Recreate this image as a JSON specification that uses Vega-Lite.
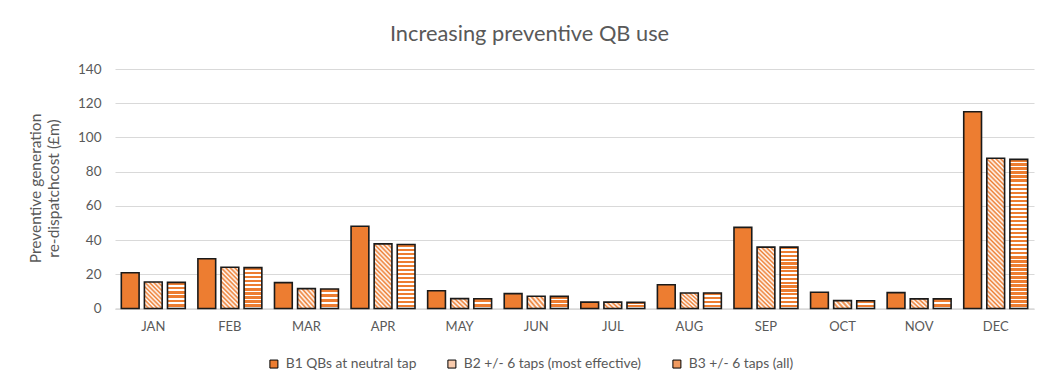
{
"$schema": "https://vega.github.io/schema/vega-lite/v6.json",
"autosize": {"type": "none"},
"width": 919,
"height": 239.5,
"padding": {"left": 115, "top": 69, "right": 12, "bottom": 81.5},
"background": "white",
"title": {"text": "Increasing preventive QB use", "font": "Lato", "fontSize": 21.8, "fontWeight": "normal", "color": "#595959", "anchor": "middle", "dx": -45, "offset": 16},
"data": {"values": [
{"month": "JAN", "series": "B1 QBs at neutral tap", "value": 20.9},
{"month": "JAN", "series": "B2 +/- 6 taps (most effective)", "value": 15.5},
{"month": "JAN", "series": "B3 +/- 6 taps (all)", "value": 15.3},
{"month": "FEB", "series": "B1 QBs at neutral tap", "value": 29.1},
{"month": "FEB", "series": "B2 +/- 6 taps (most effective)", "value": 24.1},
{"month": "FEB", "series": "B3 +/- 6 taps (all)", "value": 23.9},
{"month": "MAR", "series": "B1 QBs at neutral tap", "value": 15.1},
{"month": "MAR", "series": "B2 +/- 6 taps (most effective)", "value": 11.6},
{"month": "MAR", "series": "B3 +/- 6 taps (all)", "value": 11.4},
{"month": "APR", "series": "B1 QBs at neutral tap", "value": 48.1},
{"month": "APR", "series": "B2 +/- 6 taps (most effective)", "value": 37.8},
{"month": "APR", "series": "B3 +/- 6 taps (all)", "value": 37.4},
{"month": "MAY", "series": "B1 QBs at neutral tap", "value": 10.4},
{"month": "MAY", "series": "B2 +/- 6 taps (most effective)", "value": 5.8},
{"month": "MAY", "series": "B3 +/- 6 taps (all)", "value": 5.7},
{"month": "JUN", "series": "B1 QBs at neutral tap", "value": 8.7},
{"month": "JUN", "series": "B2 +/- 6 taps (most effective)", "value": 7.2},
{"month": "JUN", "series": "B3 +/- 6 taps (all)", "value": 7.1},
{"month": "JUL", "series": "B1 QBs at neutral tap", "value": 3.7},
{"month": "JUL", "series": "B2 +/- 6 taps (most effective)", "value": 3.7},
{"month": "JUL", "series": "B3 +/- 6 taps (all)", "value": 3.6},
{"month": "AUG", "series": "B1 QBs at neutral tap", "value": 13.9},
{"month": "AUG", "series": "B2 +/- 6 taps (most effective)", "value": 9.1},
{"month": "AUG", "series": "B3 +/- 6 taps (all)", "value": 9.1},
{"month": "SEP", "series": "B1 QBs at neutral tap", "value": 47.4},
{"month": "SEP", "series": "B2 +/- 6 taps (most effective)", "value": 35.9},
{"month": "SEP", "series": "B3 +/- 6 taps (all)", "value": 35.9},
{"month": "OCT", "series": "B1 QBs at neutral tap", "value": 9.5},
{"month": "OCT", "series": "B2 +/- 6 taps (most effective)", "value": 4.6},
{"month": "OCT", "series": "B3 +/- 6 taps (all)", "value": 4.5},
{"month": "NOV", "series": "B1 QBs at neutral tap", "value": 9.3},
{"month": "NOV", "series": "B2 +/- 6 taps (most effective)", "value": 5.6},
{"month": "NOV", "series": "B3 +/- 6 taps (all)", "value": 5.6},
{"month": "DEC", "series": "B1 QBs at neutral tap", "value": 115},
{"month": "DEC", "series": "B2 +/- 6 taps (most effective)", "value": 87.8},
{"month": "DEC", "series": "B3 +/- 6 taps (all)", "value": 87.2}
]},
"mark": {"type": "bar", "stroke": "#1a1a1a", "strokeWidth": 1.6},
"encoding": {
"x": {"field": "month", "type": "nominal", "sort": null, "scale": {"paddingInner": 0.165, "paddingOuter": 0.0825},
 "axis": {"title": null, "labelAngle": 0, "ticks": false, "domainColor": "#d9d9d9", "domainWidth": 1.3, "labelPadding": 12, "labelFont": "Lato", "labelFontSize": 13, "labelColor": "#595959"}},
"xOffset": {"field": "series", "type": "nominal", "sort": null, "scale": {"paddingInner": 0.23, "paddingOuter": 0}},
"y": {"field": "value", "type": "quantitative", "scale": {"domain": [0, 140], "nice": false},
 "axis": {"values": [0, 20, 40, 60, 80, 100, 120, 140], "title": ["Preventive generation", "re-dispatchcost (£m)"], "domain": false, "ticks": false, "gridColor": "#d9d9d9", "gridWidth": 1.2, "labelPadding": 14, "labelFont": "Lato", "labelFontSize": 13.5, "labelColor": "#595959", "titleFont": "Lato", "titleFontSize": 15.5, "titleFontWeight": "normal", "titleColor": "#595959", "titleAngle": -90, "titleX": -80, "titleY": 119, "titleAlign": "center", "titleBaseline": "middle", "titleLineHeight": 18}},
"fill": {"field": "series", "type": "nominal", "sort": null,
 "scale": {"domain": ["B1 QBs at neutral tap", "B2 +/- 6 taps (most effective)", "B3 +/- 6 taps (all)"], "range": ["#ED7D31", "#F8CBAD", "#F09A60"]},
 "legend": {"orient": "none", "legendX": 152, "legendY": 288, "direction": "horizontal", "title": null, "symbolType": "square", "symbolSize": 64, "symbolStrokeColor": "#000", "symbolStrokeWidth": 1, "labelFont": "Lato", "labelFontSize": 13.8, "labelLimit": 400, "labelColor": "#595959", "columnPadding": 28, "labelOffset": 5},
 "condition": [
 {"test": "indexof(datum.series,'B3')==0 && datum.value>=60", "value": {"gradient": "linear", "x1": 0, "y1": 0, "x2": 0, "y2": 1, "stops": [
  {"offset":0,"color":"#ED7D31"},{"offset":0.0162,"color":"#ED7D31"},{"offset":0.0162,"color":"#fff"},{"offset":0.027,"color":"#fff"},
  {"offset":0.027,"color":"#ED7D31"},{"offset":0.0432,"color":"#ED7D31"},{"offset":0.0432,"color":"#fff"},{"offset":0.0541,"color":"#fff"},
  {"offset":0.0541,"color":"#ED7D31"},{"offset":0.0703,"color":"#ED7D31"},{"offset":0.0703,"color":"#fff"},{"offset":0.0811,"color":"#fff"},
  {"offset":0.0811,"color":"#ED7D31"},{"offset":0.0973,"color":"#ED7D31"},{"offset":0.0973,"color":"#fff"},{"offset":0.1081,"color":"#fff"},
  {"offset":0.1081,"color":"#ED7D31"},{"offset":0.1243,"color":"#ED7D31"},{"offset":0.1243,"color":"#fff"},{"offset":0.1351,"color":"#fff"},
  {"offset":0.1351,"color":"#ED7D31"},{"offset":0.1514,"color":"#ED7D31"},{"offset":0.1514,"color":"#fff"},{"offset":0.1622,"color":"#fff"},
  {"offset":0.1622,"color":"#ED7D31"},{"offset":0.1784,"color":"#ED7D31"},{"offset":0.1784,"color":"#fff"},{"offset":0.1892,"color":"#fff"},
  {"offset":0.1892,"color":"#ED7D31"},{"offset":0.2054,"color":"#ED7D31"},{"offset":0.2054,"color":"#fff"},{"offset":0.2162,"color":"#fff"},
  {"offset":0.2162,"color":"#ED7D31"},{"offset":0.2324,"color":"#ED7D31"},{"offset":0.2324,"color":"#fff"},{"offset":0.2432,"color":"#fff"},
  {"offset":0.2432,"color":"#ED7D31"},{"offset":0.2595,"color":"#ED7D31"},{"offset":0.2595,"color":"#fff"},{"offset":0.2703,"color":"#fff"},
  {"offset":0.2703,"color":"#ED7D31"},{"offset":0.2865,"color":"#ED7D31"},{"offset":0.2865,"color":"#fff"},{"offset":0.2973,"color":"#fff"},
  {"offset":0.2973,"color":"#ED7D31"},{"offset":0.3135,"color":"#ED7D31"},{"offset":0.3135,"color":"#fff"},{"offset":0.3243,"color":"#fff"},
  {"offset":0.3243,"color":"#ED7D31"},{"offset":0.3405,"color":"#ED7D31"},{"offset":0.3405,"color":"#fff"},{"offset":0.3514,"color":"#fff"},
  {"offset":0.3514,"color":"#ED7D31"},{"offset":0.3676,"color":"#ED7D31"},{"offset":0.3676,"color":"#fff"},{"offset":0.3784,"color":"#fff"},
  {"offset":0.3784,"color":"#ED7D31"},{"offset":0.3946,"color":"#ED7D31"},{"offset":0.3946,"color":"#fff"},{"offset":0.4054,"color":"#fff"},
  {"offset":0.4054,"color":"#ED7D31"},{"offset":0.4216,"color":"#ED7D31"},{"offset":0.4216,"color":"#fff"},{"offset":0.4324,"color":"#fff"},
  {"offset":0.4324,"color":"#ED7D31"},{"offset":0.4486,"color":"#ED7D31"},{"offset":0.4486,"color":"#fff"},{"offset":0.4595,"color":"#fff"},
  {"offset":0.4595,"color":"#ED7D31"},{"offset":0.4757,"color":"#ED7D31"},{"offset":0.4757,"color":"#fff"},{"offset":0.4865,"color":"#fff"},
  {"offset":0.4865,"color":"#ED7D31"},{"offset":0.5027,"color":"#ED7D31"},{"offset":0.5027,"color":"#fff"},{"offset":0.5135,"color":"#fff"},
  {"offset":0.5135,"color":"#ED7D31"},{"offset":0.5297,"color":"#ED7D31"},{"offset":0.5297,"color":"#fff"},{"offset":0.5405,"color":"#fff"},
  {"offset":0.5405,"color":"#ED7D31"},{"offset":0.5568,"color":"#ED7D31"},{"offset":0.5568,"color":"#fff"},{"offset":0.5676,"color":"#fff"},
  {"offset":0.5676,"color":"#ED7D31"},{"offset":0.5838,"color":"#ED7D31"},{"offset":0.5838,"color":"#fff"},{"offset":0.5946,"color":"#fff"},
  {"offset":0.5946,"color":"#ED7D31"},{"offset":0.6108,"color":"#ED7D31"},{"offset":0.6108,"color":"#fff"},{"offset":0.6216,"color":"#fff"},
  {"offset":0.6216,"color":"#ED7D31"},{"offset":0.6378,"color":"#ED7D31"},{"offset":0.6378,"color":"#fff"},{"offset":0.6486,"color":"#fff"},
  {"offset":0.6486,"color":"#ED7D31"},{"offset":0.6649,"color":"#ED7D31"},{"offset":0.6649,"color":"#fff"},{"offset":0.6757,"color":"#fff"},
  {"offset":0.6757,"color":"#ED7D31"},{"offset":0.6919,"color":"#ED7D31"},{"offset":0.6919,"color":"#fff"},{"offset":0.7027,"color":"#fff"},
  {"offset":0.7027,"color":"#ED7D31"},{"offset":0.7189,"color":"#ED7D31"},{"offset":0.7189,"color":"#fff"},{"offset":0.7297,"color":"#fff"},
  {"offset":0.7297,"color":"#ED7D31"},{"offset":0.7459,"color":"#ED7D31"},{"offset":0.7459,"color":"#fff"},{"offset":0.7568,"color":"#fff"},
  {"offset":0.7568,"color":"#ED7D31"},{"offset":0.773,"color":"#ED7D31"},{"offset":0.773,"color":"#fff"},{"offset":0.7838,"color":"#fff"},
  {"offset":0.7838,"color":"#ED7D31"},{"offset":0.8,"color":"#ED7D31"},{"offset":0.8,"color":"#fff"},{"offset":0.8108,"color":"#fff"},
  {"offset":0.8108,"color":"#ED7D31"},{"offset":0.827,"color":"#ED7D31"},{"offset":0.827,"color":"#fff"},{"offset":0.8378,"color":"#fff"},
  {"offset":0.8378,"color":"#ED7D31"},{"offset":0.8541,"color":"#ED7D31"},{"offset":0.8541,"color":"#fff"},{"offset":0.8649,"color":"#fff"},
  {"offset":0.8649,"color":"#ED7D31"},{"offset":0.8811,"color":"#ED7D31"},{"offset":0.8811,"color":"#fff"},{"offset":0.8919,"color":"#fff"},
  {"offset":0.8919,"color":"#ED7D31"},{"offset":0.9081,"color":"#ED7D31"},{"offset":0.9081,"color":"#fff"},{"offset":0.9189,"color":"#fff"},
  {"offset":0.9189,"color":"#ED7D31"},{"offset":0.9351,"color":"#ED7D31"},{"offset":0.9351,"color":"#fff"},{"offset":0.9459,"color":"#fff"},
  {"offset":0.9459,"color":"#ED7D31"},{"offset":0.9622,"color":"#ED7D31"},{"offset":0.9622,"color":"#fff"},{"offset":0.973,"color":"#fff"},
  {"offset":0.973,"color":"#ED7D31"},{"offset":0.9892,"color":"#ED7D31"},{"offset":0.9892,"color":"#fff"},{"offset":1,"color":"#fff"}]}},
 {"test": "indexof(datum.series,'B3')==0 && datum.value>=30", "value": {"gradient": "linear", "x1": 0, "y1": 0, "x2": 0, "y2": 1, "stops": [
  {"offset":0,"color":"#ED7D31"},{"offset":0.0375,"color":"#ED7D31"},{"offset":0.0375,"color":"#fff"},{"offset":0.0625,"color":"#fff"},
  {"offset":0.0625,"color":"#ED7D31"},{"offset":0.1,"color":"#ED7D31"},{"offset":0.1,"color":"#fff"},{"offset":0.125,"color":"#fff"},
  {"offset":0.125,"color":"#ED7D31"},{"offset":0.1625,"color":"#ED7D31"},{"offset":0.1625,"color":"#fff"},{"offset":0.1875,"color":"#fff"},
  {"offset":0.1875,"color":"#ED7D31"},{"offset":0.225,"color":"#ED7D31"},{"offset":0.225,"color":"#fff"},{"offset":0.25,"color":"#fff"},
  {"offset":0.25,"color":"#ED7D31"},{"offset":0.2875,"color":"#ED7D31"},{"offset":0.2875,"color":"#fff"},{"offset":0.3125,"color":"#fff"},
  {"offset":0.3125,"color":"#ED7D31"},{"offset":0.35,"color":"#ED7D31"},{"offset":0.35,"color":"#fff"},{"offset":0.375,"color":"#fff"},
  {"offset":0.375,"color":"#ED7D31"},{"offset":0.4125,"color":"#ED7D31"},{"offset":0.4125,"color":"#fff"},{"offset":0.4375,"color":"#fff"},
  {"offset":0.4375,"color":"#ED7D31"},{"offset":0.475,"color":"#ED7D31"},{"offset":0.475,"color":"#fff"},{"offset":0.5,"color":"#fff"},
  {"offset":0.5,"color":"#ED7D31"},{"offset":0.5375,"color":"#ED7D31"},{"offset":0.5375,"color":"#fff"},{"offset":0.5625,"color":"#fff"},
  {"offset":0.5625,"color":"#ED7D31"},{"offset":0.6,"color":"#ED7D31"},{"offset":0.6,"color":"#fff"},{"offset":0.625,"color":"#fff"},
  {"offset":0.625,"color":"#ED7D31"},{"offset":0.6625,"color":"#ED7D31"},{"offset":0.6625,"color":"#fff"},{"offset":0.6875,"color":"#fff"},
  {"offset":0.6875,"color":"#ED7D31"},{"offset":0.725,"color":"#ED7D31"},{"offset":0.725,"color":"#fff"},{"offset":0.75,"color":"#fff"},
  {"offset":0.75,"color":"#ED7D31"},{"offset":0.7875,"color":"#ED7D31"},{"offset":0.7875,"color":"#fff"},{"offset":0.8125,"color":"#fff"},
  {"offset":0.8125,"color":"#ED7D31"},{"offset":0.85,"color":"#ED7D31"},{"offset":0.85,"color":"#fff"},{"offset":0.875,"color":"#fff"},
  {"offset":0.875,"color":"#ED7D31"},{"offset":0.9125,"color":"#ED7D31"},{"offset":0.9125,"color":"#fff"},{"offset":0.9375,"color":"#fff"},
  {"offset":0.9375,"color":"#ED7D31"},{"offset":0.975,"color":"#ED7D31"},{"offset":0.975,"color":"#fff"},{"offset":1,"color":"#fff"}]}},
 {"test": "indexof(datum.series,'B3')==0 && datum.value>=20", "value": {"gradient": "linear", "x1": 0, "y1": 0, "x2": 0, "y2": 1, "stops": [
  {"offset":0,"color":"#ED7D31"},{"offset":0.06,"color":"#ED7D31"},{"offset":0.06,"color":"#fff"},{"offset":0.1,"color":"#fff"},
  {"offset":0.1,"color":"#ED7D31"},{"offset":0.16,"color":"#ED7D31"},{"offset":0.16,"color":"#fff"},{"offset":0.2,"color":"#fff"},
  {"offset":0.2,"color":"#ED7D31"},{"offset":0.26,"color":"#ED7D31"},{"offset":0.26,"color":"#fff"},{"offset":0.3,"color":"#fff"},
  {"offset":0.3,"color":"#ED7D31"},{"offset":0.36,"color":"#ED7D31"},{"offset":0.36,"color":"#fff"},{"offset":0.4,"color":"#fff"},
  {"offset":0.4,"color":"#ED7D31"},{"offset":0.46,"color":"#ED7D31"},{"offset":0.46,"color":"#fff"},{"offset":0.5,"color":"#fff"},
  {"offset":0.5,"color":"#ED7D31"},{"offset":0.56,"color":"#ED7D31"},{"offset":0.56,"color":"#fff"},{"offset":0.6,"color":"#fff"},
  {"offset":0.6,"color":"#ED7D31"},{"offset":0.66,"color":"#ED7D31"},{"offset":0.66,"color":"#fff"},{"offset":0.7,"color":"#fff"},
  {"offset":0.7,"color":"#ED7D31"},{"offset":0.76,"color":"#ED7D31"},{"offset":0.76,"color":"#fff"},{"offset":0.8,"color":"#fff"},
  {"offset":0.8,"color":"#ED7D31"},{"offset":0.86,"color":"#ED7D31"},{"offset":0.86,"color":"#fff"},{"offset":0.9,"color":"#fff"},
  {"offset":0.9,"color":"#ED7D31"},{"offset":0.96,"color":"#ED7D31"},{"offset":0.96,"color":"#fff"},{"offset":1,"color":"#fff"}]}},
 {"test": "indexof(datum.series,'B3')==0 && datum.value>=13", "value": {"gradient": "linear", "x1": 0, "y1": 0, "x2": 0, "y2": 1, "stops": [
  {"offset":0,"color":"#ED7D31"},{"offset":0.1,"color":"#ED7D31"},{"offset":0.1,"color":"#fff"},{"offset":0.1667,"color":"#fff"},
  {"offset":0.1667,"color":"#ED7D31"},{"offset":0.2667,"color":"#ED7D31"},{"offset":0.2667,"color":"#fff"},{"offset":0.3333,"color":"#fff"},
  {"offset":0.3333,"color":"#ED7D31"},{"offset":0.4333,"color":"#ED7D31"},{"offset":0.4333,"color":"#fff"},{"offset":0.5,"color":"#fff"},
  {"offset":0.5,"color":"#ED7D31"},{"offset":0.6,"color":"#ED7D31"},{"offset":0.6,"color":"#fff"},{"offset":0.6667,"color":"#fff"},
  {"offset":0.6667,"color":"#ED7D31"},{"offset":0.7667,"color":"#ED7D31"},{"offset":0.7667,"color":"#fff"},{"offset":0.8333,"color":"#fff"},
  {"offset":0.8333,"color":"#ED7D31"},{"offset":0.9333,"color":"#ED7D31"},{"offset":0.9333,"color":"#fff"},{"offset":1,"color":"#fff"}]}},
 {"test": "indexof(datum.series,'B3')==0 && datum.value>=8", "value": {"gradient": "linear", "x1": 0, "y1": 0, "x2": 0, "y2": 1, "stops": [
  {"offset":0,"color":"#ED7D31"},{"offset":0.15,"color":"#ED7D31"},{"offset":0.15,"color":"#fff"},{"offset":0.25,"color":"#fff"},
  {"offset":0.25,"color":"#ED7D31"},{"offset":0.4,"color":"#ED7D31"},{"offset":0.4,"color":"#fff"},{"offset":0.5,"color":"#fff"},
  {"offset":0.5,"color":"#ED7D31"},{"offset":0.65,"color":"#ED7D31"},{"offset":0.65,"color":"#fff"},{"offset":0.75,"color":"#fff"},
  {"offset":0.75,"color":"#ED7D31"},{"offset":0.9,"color":"#ED7D31"},{"offset":0.9,"color":"#fff"},{"offset":1,"color":"#fff"}]}},
 {"test": "indexof(datum.series,'B3')==0 && datum.value>=6.5", "value": {"gradient": "linear", "x1": 0, "y1": 0, "x2": 0, "y2": 1, "stops": [
  {"offset":0,"color":"#ED7D31"},{"offset":0.2,"color":"#ED7D31"},{"offset":0.2,"color":"#fff"},{"offset":0.3333,"color":"#fff"},
  {"offset":0.3333,"color":"#ED7D31"},{"offset":0.5333,"color":"#ED7D31"},{"offset":0.5333,"color":"#fff"},{"offset":0.6667,"color":"#fff"},
  {"offset":0.6667,"color":"#ED7D31"},{"offset":0.8667,"color":"#ED7D31"},{"offset":0.8667,"color":"#fff"},{"offset":1,"color":"#fff"}]}},
 {"test": "indexof(datum.series,'B3')==0", "value": {"gradient": "linear", "x1": 0, "y1": 0, "x2": 0, "y2": 1, "stops": [
  {"offset":0,"color":"#ED7D31"},{"offset":0.3,"color":"#ED7D31"},{"offset":0.3,"color":"#fff"},{"offset":0.5,"color":"#fff"},
  {"offset":0.5,"color":"#ED7D31"},{"offset":0.8,"color":"#ED7D31"},{"offset":0.8,"color":"#fff"},{"offset":1,"color":"#fff"}]}},
 {"test": "indexof(datum.series,'B2')==0 && datum.value>=60", "value": {"gradient": "linear", "x1": 0, "y1": 1, "x2": 0.1307, "y2": -0.1031, "stops": [
  {"offset":0,"color":"#ED7D31"},{"offset":0.0135,"color":"#fff"},{"offset":0.027,"color":"#ED7D31"},{"offset":0.0405,"color":"#fff"},
  {"offset":0.0541,"color":"#ED7D31"},{"offset":0.0676,"color":"#fff"},{"offset":0.0811,"color":"#ED7D31"},{"offset":0.0946,"color":"#fff"},
  {"offset":0.1081,"color":"#ED7D31"},{"offset":0.1216,"color":"#fff"},{"offset":0.1351,"color":"#ED7D31"},{"offset":0.1486,"color":"#fff"},
  {"offset":0.1622,"color":"#ED7D31"},{"offset":0.1757,"color":"#fff"},{"offset":0.1892,"color":"#ED7D31"},{"offset":0.2027,"color":"#fff"},
  {"offset":0.2162,"color":"#ED7D31"},{"offset":0.2297,"color":"#fff"},{"offset":0.2432,"color":"#ED7D31"},{"offset":0.2568,"color":"#fff"},
  {"offset":0.2703,"color":"#ED7D31"},{"offset":0.2838,"color":"#fff"},{"offset":0.2973,"color":"#ED7D31"},{"offset":0.3108,"color":"#fff"},
  {"offset":0.3243,"color":"#ED7D31"},{"offset":0.3378,"color":"#fff"},{"offset":0.3514,"color":"#ED7D31"},{"offset":0.3649,"color":"#fff"},
  {"offset":0.3784,"color":"#ED7D31"},{"offset":0.3919,"color":"#fff"},{"offset":0.4054,"color":"#ED7D31"},{"offset":0.4189,"color":"#fff"},
  {"offset":0.4324,"color":"#ED7D31"},{"offset":0.4459,"color":"#fff"},{"offset":0.4595,"color":"#ED7D31"},{"offset":0.473,"color":"#fff"},
  {"offset":0.4865,"color":"#ED7D31"},{"offset":0.5,"color":"#fff"},{"offset":0.5135,"color":"#ED7D31"},{"offset":0.527,"color":"#fff"},
  {"offset":0.5405,"color":"#ED7D31"},{"offset":0.5541,"color":"#fff"},{"offset":0.5676,"color":"#ED7D31"},{"offset":0.5811,"color":"#fff"},
  {"offset":0.5946,"color":"#ED7D31"},{"offset":0.6081,"color":"#fff"},{"offset":0.6216,"color":"#ED7D31"},{"offset":0.6351,"color":"#fff"},
  {"offset":0.6486,"color":"#ED7D31"},{"offset":0.6622,"color":"#fff"},{"offset":0.6757,"color":"#ED7D31"},{"offset":0.6892,"color":"#fff"},
  {"offset":0.7027,"color":"#ED7D31"},{"offset":0.7162,"color":"#fff"},{"offset":0.7297,"color":"#ED7D31"},{"offset":0.7432,"color":"#fff"},
  {"offset":0.7568,"color":"#ED7D31"},{"offset":0.7703,"color":"#fff"},{"offset":0.7838,"color":"#ED7D31"},{"offset":0.7973,"color":"#fff"},
  {"offset":0.8108,"color":"#ED7D31"},{"offset":0.8243,"color":"#fff"},{"offset":0.8378,"color":"#ED7D31"},{"offset":0.8514,"color":"#fff"},
  {"offset":0.8649,"color":"#ED7D31"},{"offset":0.8784,"color":"#fff"},{"offset":0.8919,"color":"#ED7D31"},{"offset":0.9054,"color":"#fff"},
  {"offset":0.9189,"color":"#ED7D31"},{"offset":0.9324,"color":"#fff"},{"offset":0.9459,"color":"#ED7D31"},{"offset":0.9595,"color":"#fff"},
  {"offset":0.973,"color":"#ED7D31"},{"offset":0.9865,"color":"#fff"},{"offset":1,"color":"#ED7D31"}]}},
 {"test": "indexof(datum.series,'B2')==0 && datum.value>=30", "value": {"gradient": "linear", "x1": 0, "y1": 1, "x2": 0.3356, "y2": -0.1876, "stops": [
  {"offset":0,"color":"#ED7D31"},{"offset":0.0278,"color":"#fff"},{"offset":0.0556,"color":"#ED7D31"},{"offset":0.0833,"color":"#fff"},
  {"offset":0.1111,"color":"#ED7D31"},{"offset":0.1389,"color":"#fff"},{"offset":0.1667,"color":"#ED7D31"},{"offset":0.1944,"color":"#fff"},
  {"offset":0.2222,"color":"#ED7D31"},{"offset":0.25,"color":"#fff"},{"offset":0.2778,"color":"#ED7D31"},{"offset":0.3056,"color":"#fff"},
  {"offset":0.3333,"color":"#ED7D31"},{"offset":0.3611,"color":"#fff"},{"offset":0.3889,"color":"#ED7D31"},{"offset":0.4167,"color":"#fff"},
  {"offset":0.4444,"color":"#ED7D31"},{"offset":0.4722,"color":"#fff"},{"offset":0.5,"color":"#ED7D31"},{"offset":0.5278,"color":"#fff"},
  {"offset":0.5556,"color":"#ED7D31"},{"offset":0.5833,"color":"#fff"},{"offset":0.6111,"color":"#ED7D31"},{"offset":0.6389,"color":"#fff"},
  {"offset":0.6667,"color":"#ED7D31"},{"offset":0.6944,"color":"#fff"},{"offset":0.7222,"color":"#ED7D31"},{"offset":0.75,"color":"#fff"},
  {"offset":0.7778,"color":"#ED7D31"},{"offset":0.8056,"color":"#fff"},{"offset":0.8333,"color":"#ED7D31"},{"offset":0.8611,"color":"#fff"},
  {"offset":0.8889,"color":"#ED7D31"},{"offset":0.9167,"color":"#fff"},{"offset":0.9444,"color":"#ED7D31"},{"offset":0.9722,"color":"#fff"},
  {"offset":1,"color":"#ED7D31"}]}},
 {"test": "indexof(datum.series,'B2')==0 && datum.value>=20", "value": {"gradient": "linear", "x1": 0, "y1": 1, "x2": 0.5214, "y2": -0.2068, "stops": [
  {"offset":0,"color":"#ED7D31"},{"offset":0.0385,"color":"#fff"},{"offset":0.0769,"color":"#ED7D31"},{"offset":0.1154,"color":"#fff"},
  {"offset":0.1538,"color":"#ED7D31"},{"offset":0.1923,"color":"#fff"},{"offset":0.2308,"color":"#ED7D31"},{"offset":0.2692,"color":"#fff"},
  {"offset":0.3077,"color":"#ED7D31"},{"offset":0.3462,"color":"#fff"},{"offset":0.3846,"color":"#ED7D31"},{"offset":0.4231,"color":"#fff"},
  {"offset":0.4615,"color":"#ED7D31"},{"offset":0.5,"color":"#fff"},{"offset":0.5385,"color":"#ED7D31"},{"offset":0.5769,"color":"#fff"},
  {"offset":0.6154,"color":"#ED7D31"},{"offset":0.6538,"color":"#fff"},{"offset":0.6923,"color":"#ED7D31"},{"offset":0.7308,"color":"#fff"},
  {"offset":0.7692,"color":"#ED7D31"},{"offset":0.8077,"color":"#fff"},{"offset":0.8462,"color":"#ED7D31"},{"offset":0.8846,"color":"#fff"},
  {"offset":0.9231,"color":"#ED7D31"},{"offset":0.9615,"color":"#fff"},{"offset":1,"color":"#ED7D31"}]}},
 {"test": "indexof(datum.series,'B2')==0 && datum.value>=13", "value": {"gradient": "linear", "x1": 0, "y1": 1, "x2": 0.7738, "y2": -0.152, "stops": [
  {"offset":0,"color":"#ED7D31"},{"offset":0.05,"color":"#fff"},{"offset":0.1,"color":"#ED7D31"},{"offset":0.15,"color":"#fff"},
  {"offset":0.2,"color":"#ED7D31"},{"offset":0.25,"color":"#fff"},{"offset":0.3,"color":"#ED7D31"},{"offset":0.35,"color":"#fff"},
  {"offset":0.4,"color":"#ED7D31"},{"offset":0.45,"color":"#fff"},{"offset":0.5,"color":"#ED7D31"},{"offset":0.55,"color":"#fff"},
  {"offset":0.6,"color":"#ED7D31"},{"offset":0.65,"color":"#fff"},{"offset":0.7,"color":"#ED7D31"},{"offset":0.75,"color":"#fff"},
  {"offset":0.8,"color":"#ED7D31"},{"offset":0.85,"color":"#fff"},{"offset":0.9,"color":"#ED7D31"},{"offset":0.95,"color":"#fff"},
  {"offset":1,"color":"#ED7D31"}]}},
 {"test": "indexof(datum.series,'B2')==0 && datum.value>=8", "value": {"gradient": "linear", "x1": 0, "y1": 1, "x2": 1.0029, "y2": 0.0028, "stops": [
  {"offset":0,"color":"#ED7D31"},{"offset":0.0625,"color":"#fff"},{"offset":0.125,"color":"#ED7D31"},{"offset":0.1875,"color":"#fff"},
  {"offset":0.25,"color":"#ED7D31"},{"offset":0.3125,"color":"#fff"},{"offset":0.375,"color":"#ED7D31"},{"offset":0.4375,"color":"#fff"},
  {"offset":0.5,"color":"#ED7D31"},{"offset":0.5625,"color":"#fff"},{"offset":0.625,"color":"#ED7D31"},{"offset":0.6875,"color":"#fff"},
  {"offset":0.75,"color":"#ED7D31"},{"offset":0.8125,"color":"#fff"},{"offset":0.875,"color":"#ED7D31"},{"offset":0.9375,"color":"#fff"},
  {"offset":1,"color":"#ED7D31"}]}},
 {"test": "indexof(datum.series,'B2')==0 && datum.value>=5", "value": {"gradient": "linear", "x1": 0, "y1": 1, "x2": 1.1778, "y2": 0.2986, "stops": [
  {"offset":0,"color":"#ED7D31"},{"offset":0.0833,"color":"#fff"},{"offset":0.1667,"color":"#ED7D31"},{"offset":0.25,"color":"#fff"},
  {"offset":0.3333,"color":"#ED7D31"},{"offset":0.4167,"color":"#fff"},{"offset":0.5,"color":"#ED7D31"},{"offset":0.5833,"color":"#fff"},
  {"offset":0.6667,"color":"#ED7D31"},{"offset":0.75,"color":"#fff"},{"offset":0.8333,"color":"#ED7D31"},{"offset":0.9167,"color":"#fff"},
  {"offset":1,"color":"#ED7D31"}]}},
 {"test": "indexof(datum.series,'B2')==0", "value": {"gradient": "linear", "x1": 0, "y1": 1, "x2": 1.207, "y2": 0.5185, "stops": [
  {"offset":0,"color":"#ED7D31"},{"offset":0.1,"color":"#fff"},{"offset":0.2,"color":"#ED7D31"},{"offset":0.3,"color":"#fff"},
  {"offset":0.4,"color":"#ED7D31"},{"offset":0.5,"color":"#fff"},{"offset":0.6,"color":"#ED7D31"},{"offset":0.7,"color":"#fff"},
  {"offset":0.8,"color":"#ED7D31"},{"offset":0.9,"color":"#fff"},{"offset":1,"color":"#ED7D31"}]}}
 ]}
},
"config": {"view": {"stroke": null}}
}
